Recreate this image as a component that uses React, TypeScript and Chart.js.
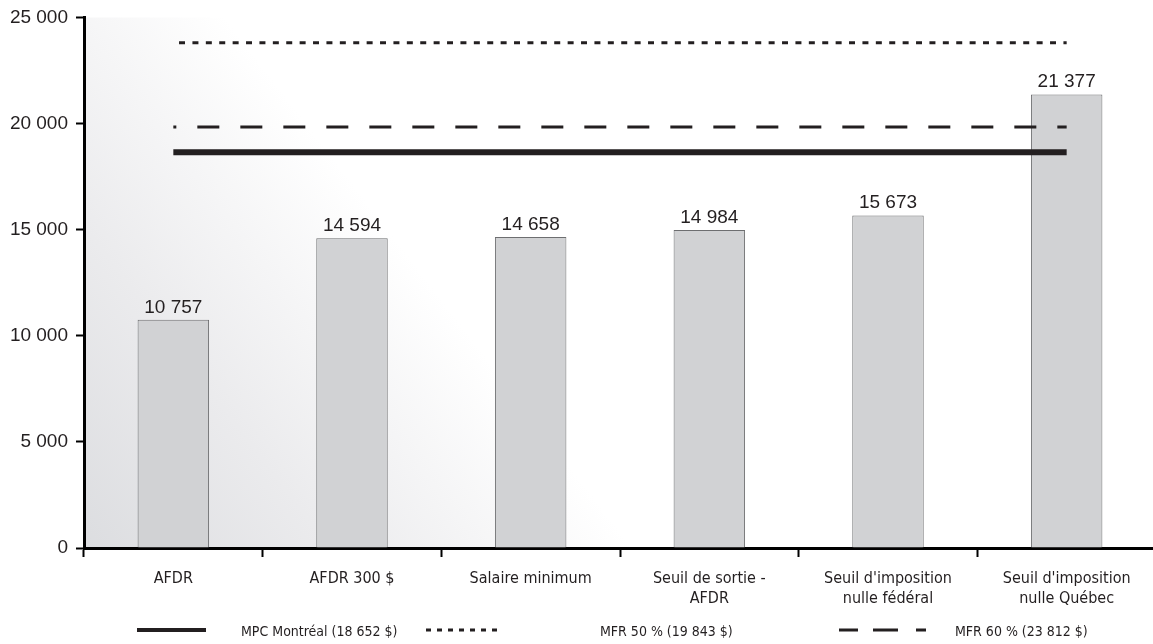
import React, { useEffect, useRef } from "react";
import { Chart, registerables } from "chart.js";

Chart.register(...registerables);

const categories: string[][] = [
  ["AFDR"],
  ["AFDR 300 $"],
  ["Salaire minimum"],
  ["Seuil de sortie -", "AFDR"],
  ["Seuil d'imposition", "nulle fédéral"],
  ["Seuil d'imposition", "nulle Québec"],
];
const incomes = [10757, 14594, 14658, 14984, 15673, 21377];
const yTicks = [0, 5000, 10000, 15000, 20000, 25000];

const mpcLevel = 18652;
const dottedLevel = 23812;
const dashedLevel = 19843;

const legendLabels = ["MPC Montréal (18 652 $)", "MFR 50 % (19 843 $)", "MFR 60 % (23 812 $)"];

const INK = "#231f20";
const NARROW = "'Liberation Sans Narrow', 'DejaVu Sans Condensed', 'Liberation Sans', sans-serif";
const SANS = "'Liberation Sans', Arial, sans-serif";

const fmt = (v: number) => String(v).replace(/\B(?=(\d{3})+(?!\d))/g, " ");

const bgPlugin = {
  id: "bgGrad",
  beforeDraw(chart: any) {
    const { ctx, chartArea } = chart;
    if (!chartArea) return;
    const { left, top, right, bottom } = chartArea;
    ctx.save();
    const g = ctx.createLinearGradient(left, bottom, left + 345, bottom - 265);
    g.addColorStop(0, "#dcdde0");
    g.addColorStop(0.45, "#ebebed");
    g.addColorStop(1, "#ffffff");
    ctx.fillStyle = g;
    ctx.fillRect(left, top, right - left, bottom - top);
    ctx.restore();
  },
};

const labelPlugin = {
  id: "barLabels",
  afterDatasetsDraw(chart: any) {
    const { ctx } = chart;
    const meta = chart.getDatasetMeta(0);
    ctx.save();
    ctx.font = `19px ${SANS}`;
    ctx.fillStyle = INK;
    ctx.textAlign = "center";
    ctx.textBaseline = "alphabetic";
    meta.data.forEach((el: any, i: number) => {
      ctx.fillText(fmt(incomes[i]), el.x, el.y - 7);
    });
    ctx.restore();
  },
};

export default function App() {
  const ref = useRef<HTMLCanvasElement | null>(null);

  useEffect(() => {
    document.documentElement.style.overflow = "hidden";
    document.body.style.margin = "0";
    document.body.style.overflow = "hidden";
    const canvas = ref.current!;
    const levelLine = (v: number) => categories.map(() => v);
    const chart = new Chart(canvas, {
      type: "bar",
      data: {
        labels: categories,
        datasets: [
          {
            type: "bar",
            label: "Revenu",
            data: incomes,
            backgroundColor: "#d1d2d4",
            borderColor: "#6d6e70",
            borderWidth: 1,
            barPercentage: 0.4,
            categoryPercentage: 1,
            order: 2,
          } as any,
          {
            type: "line",
            label: legendLabels[0],
            data: levelLine(mpcLevel),
            borderColor: INK,
            borderWidth: 6,
            pointRadius: 0,
            fill: false,
            order: 1,
          },
          {
            type: "line",
            label: legendLabels[2],
            data: levelLine(dashedLevel),
            borderColor: INK,
            borderWidth: 3,
            borderDash: [22, 21],
            borderDashOffset: 19,
            pointRadius: 0,
            fill: false,
            order: 1,
          },
          {
            type: "line",
            label: legendLabels[1],
            data: levelLine(dottedLevel),
            borderColor: INK,
            borderWidth: 3,
            borderDash: [6, 7.4],
            borderDashOffset: 7.7,
            pointRadius: 0,
            fill: false,
            order: 1,
          },
        ],
      },
      options: {
        animation: false,
        responsive: false,
        maintainAspectRatio: false,
        layout: { padding: { top: 14, right: 4, left: 0, bottom: 0 } },
        plugins: { legend: { display: false }, tooltip: { enabled: false } },
        scales: {
          x: {
            type: "category",
            offset: true,
            grid: {
              display: true,
              drawOnChartArea: false,
              drawTicks: true,
              tickLength: 9,
              tickWidth: 2,
              tickColor: "#000",
              offset: true,
            },
            border: { display: true, color: "#000", width: 3 },
            ticks: {
              font: { family: NARROW, size: 16, lineHeight: 1.3 },
              color: INK,
              padding: 11,
              maxRotation: 0,
              autoSkip: false,
            },
            afterFit: (s: any) => {
              s.height = 96;
            },
          },
          y: {
            min: 0,
            max: 25000,
            afterBuildTicks: (s: any) => {
              s.ticks = yTicks.map((v) => ({ value: v }));
            },
            ticks: {
              callback: (v: any) => fmt(Number(v)),
              font: { family: SANS, size: 19, lineHeight: 1 },
              color: INK,
              padding: 8,
            },
            grid: {
              display: true,
              drawOnChartArea: false,
              tickLength: 8,
              tickWidth: 2,
              tickColor: "#000",
            },
            border: { display: true, color: "#000", width: 3 },
            afterFit: (s: any) => {
              s.width = 84;
            },
          },
        },
      },
      plugins: [bgPlugin, labelPlugin],
    });
    return () => chart.destroy();
  }, []);

  const textStyle: React.CSSProperties = {
    position: "absolute",
    top: 620,
    height: 22,
    lineHeight: "22px",
    fontFamily: NARROW,
    fontSize: 14,
    color: INK,
    whiteSpace: "nowrap",
  };

  return (
    <div style={{ position: "relative", width: 1160, height: 644, background: "#fff" }}>
      <canvas ref={ref} width={1160} height={644} style={{ position: "absolute", left: 0, top: 0 }} />
      <svg style={{ position: "absolute", left: 137, top: 620, width: 70, height: 20 }}>
        <line x1={0} y1={10} x2={69} y2={10} stroke={INK} strokeWidth={4} />
      </svg>
      <div style={{ ...textStyle, left: 241 }}>{legendLabels[0]}</div>
      <svg style={{ position: "absolute", left: 426, top: 620, width: 80, height: 20 }}>
        <line x1={0} y1={10} x2={71} y2={10} stroke={INK} strokeWidth={3} strokeDasharray="5 6" />
      </svg>
      <div style={{ ...textStyle, left: 600 }}>{legendLabels[1]}</div>
      <svg style={{ position: "absolute", left: 839, top: 620, width: 92, height: 20 }}>
        <line x1={0} y1={10} x2={87} y2={10} stroke={INK} strokeWidth={3} strokeDasharray="19 15 25 18 10" />
      </svg>
      <div style={{ ...textStyle, left: 955 }}>{legendLabels[2]}</div>
    </div>
  );
}
